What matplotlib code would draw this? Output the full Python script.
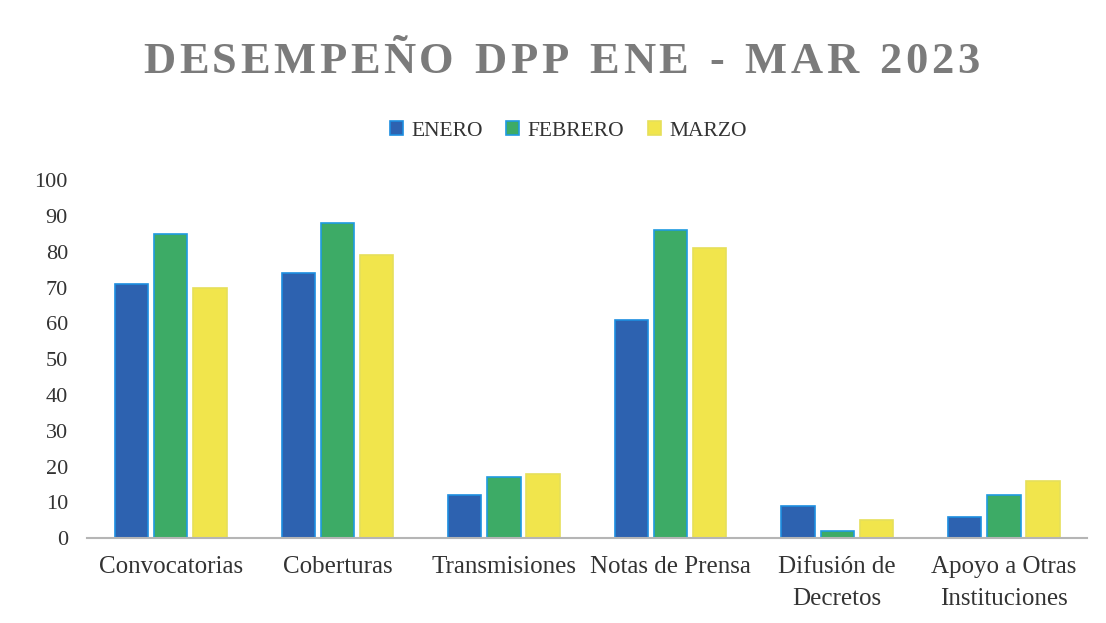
import numpy as np
import matplotlib
matplotlib.use("Agg")
import matplotlib.pyplot as plt

# Data
categories = ["Convocatorias", "Coberturas", "Transmisiones", "Notas de Prensa",
              "Difusión de\nDecretos", "Apoyo a Otras\nInstituciones"]
enero = [71, 74, 12, 61, 9, 6]
febrero = [85, 88, 17, 86, 2, 12]
marzo = [70, 79, 18, 81, 5, 16]
series_names = ["ENERO", "FEBRERO", "MARZO"]
y_ticks = [0, 10, 20, 30, 40, 50, 60, 70, 80, 90, 100]
title = "DESEMPEÑO DPP ENE - MAR 2023"

plt.rcParams['font.family'] = ['Liberation Serif', 'DejaVu Serif']

fig = plt.figure(figsize=(11.06, 6.23), dpi=100)
ax = fig.add_axes([0.079, 0.136, 0.904, 0.575])

x = np.arange(len(categories))
width = 0.2
step = 0.235
colors = ["#2d62b0", "#3dab66", "#f1e54c"]
edges = ["#1d8ee0", "#1f9be0", "#e6df5a"]

for i, (vals, name) in enumerate(zip([enero, febrero, marzo], series_names)):
    ax.bar(x + (i - 1) * step, vals, width, color=colors[i],
           edgecolor=edges[i], linewidth=1.2, label=name, zorder=2)

ax.set_xlim(-0.5, len(categories) - 0.5)
ax.set_ylim(0, 100)
ax.set_yticks(y_ticks)
ax.set_xticks(x)
ax.set_xticklabels(categories, linespacing=1.55)
ax.tick_params(axis='y', length=0, pad=14, labelsize=16, labelcolor="#333333")
ax.tick_params(axis='x', length=0, pad=13, labelsize=18, labelcolor="#333333")

for side in ["top", "right", "left"]:
    ax.spines[side].set_visible(False)
ax.spines["bottom"].set_color("#b5b5b5")
ax.spines["bottom"].set_linewidth(1.5)

# Title drawn letter by letter to get the wide tracking
renderer = fig.canvas.get_renderer()
tracking = 3.6  # extra pixels between letters
widths = []
for ch in title:
    t = fig.text(0, 0, ch if ch != " " else "n", fontsize=32, fontweight="bold")
    w = t.get_window_extent(renderer).width
    if ch == " ":
        w *= 0.55
    widths.append(w)
    t.remove()
total = sum(widths) + tracking * (len(title) - 1)
xpix = 561 - total / 2
for ch, w in zip(title, widths):
    fig.text(xpix / 1106, 0.90, ch, ha="left", va="center",
             fontsize=32, fontweight="bold", color="#7b7b7b")
    xpix += w + tracking

fig.legend(loc="center", bbox_to_anchor=(0.514, 0.79), ncol=3, frameon=False,
           fontsize=15.5, handlelength=0.6, handleheight=0.6, handletextpad=0.4,
           columnspacing=1.1, labelcolor="#333333")

fig.savefig("out.png", dpi=100)
